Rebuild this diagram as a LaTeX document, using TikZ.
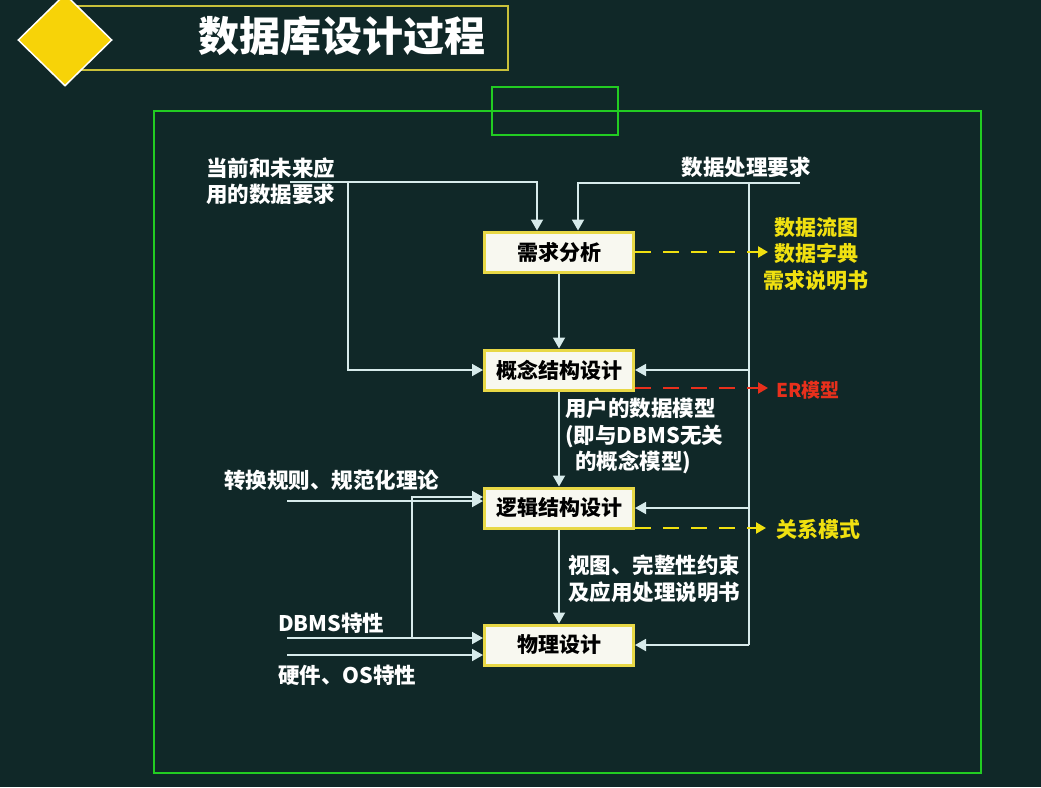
\documentclass[tikz,border=0pt]{standalone}
\usepackage{fontspec}
\setmainfont{Noto Sans CJK SC}
\usetikzlibrary{arrows.meta,shapes.geometric}
\definecolor{bg}{RGB}{16,40,40}
\definecolor{ln}{RGB}{215,235,235}
\definecolor{boxfill}{RGB}{248,248,240}
\definecolor{boxedge}{RGB}{232,216,70}
\definecolor{grn}{RGB}{34,204,34}
\definecolor{tbox}{RGB}{200,192,58}
\definecolor{dia}{RGB}{247,211,8}
\definecolor{ylw}{RGB}{240,224,16}
\definecolor{rd}{RGB}{232,48,28}
\tikzset{
  stagebox/.style={draw=boxedge,fill=boxfill,line width=3pt,minimum width=149pt,minimum height=40pt,inner sep=0pt,font=\fontsize{21}{22}\selectfont\bfseries,text=black},
  lbl/.style={font=\fontsize{21.5}{26.5}\selectfont\bfseries,text=white,inner sep=0pt,align=left},
  ylbl/.style={font=\fontsize{21}{26.5}\selectfont\bfseries,text=ylw,inner sep=0pt,align=center},
  arr/.style={draw=ln,line width=1.8pt,-{Triangle[length=11pt,width=12pt,fill=ln]}},
  plain/.style={draw=ln,line width=1.8pt},
  ydash/.style={draw=ylw,line width=2.2pt,dash pattern=on 16pt off 12pt,-{Triangle[length=10pt,width=11pt]}},
  rdash/.style={draw=rd,line width=2.2pt,dash pattern=on 16pt off 12pt,-{Triangle[length=10pt,width=11pt]}}
}
\begin{document}
\begin{tikzpicture}[x=1pt,y=-1pt]
\fill[bg] (0,0) rectangle (1041,787);
\useasboundingbox (0,0) rectangle (1041,787);
% title
\draw[tbox,line width=2.5pt] (70,6) rectangle (508,70);
\node[draw=white,line width=1.5pt,fill=dia,diamond,minimum width=94pt,minimum height=92pt,inner sep=0pt] (dm) at (65,40) {};
\node[font=\fontsize{41}{44}\selectfont\bfseries,text=white,inner sep=0pt] (title) at (342,36) {数据库设计过程};
% green frames
\draw[grn,line width=2.5pt] (154,111) rectangle (981,773);
\draw[grn,line width=2.5pt] (492,87) rectangle (618,135);
% stages
\node[stagebox] (req) at (559,252) {需求分析};
\node[stagebox] (con) at (559,370) {概念结构设计};
\node[stagebox] (log) at (559,508) {逻辑结构设计};
\node[stagebox] (phy) at (559,645) {物理设计};
% labels
\node[lbl,anchor=west] (t1) at (206,181) {当前和未来应\\用的数据要求};
\node[lbl] (t2) at (746,167) {数据处理要求};
\node[ylbl] (o1) at (816,254) {数据流图\\数据字典\\需求说明书};
\node[font=\fontsize{19}{22}\selectfont\bfseries,text=rd,inner sep=0pt] (o2) at (808,390) {ER模型};
\node[lbl,anchor=north west] (t3) at (565,398) {用户的数据模型\\(即与DBMS无关\\\hspace{10pt}的概念模型)};
\node[lbl,anchor=west] (t4) at (224,480) {转换规则、规范化理论};
\node[lbl,anchor=north west] (t5) at (568,555) {视图、完整性约束\\及应用处理说明书};
\node[lbl,anchor=west] (t6) at (278,623) {DBMS特性};
\node[lbl,anchor=west] (t7) at (278,675) {硬件、OS特性};
\node[font=\fontsize{21}{22}\selectfont\bfseries,text=ylw,inner sep=0pt] (o3) at (818,529) {关系模式};
% coordinates
\coordinate (a1) at (290,182);
\coordinate (a2) at (348,182);
\coordinate (b1) at (800,183);
\coordinate (b2) at (749,183);
\coordinate (l1) at (287,501);
\coordinate (l2) at (287,638);
\coordinate (l3) at (412,638);
\coordinate (l4) at (287,655);
\coordinate (e1) at (768,252);
\coordinate (e2) at (768,388);
\coordinate (e3) at (766,528);
% connectors
\draw[arr] (a1) -| ([xshift=-22pt]req.north);
\draw[arr] (a2) |- (con.west);
\draw[arr] (b1) -| ([xshift=19pt]req.north);
\draw[plain] (b2) -- (b2 |- phy.east);
\draw[arr] (b2 |- con.east) -- (con.east);
\draw[arr] (b2 |- log.east) -- (log.east);
\draw[arr] (b2 |- phy.east) -- (phy.east);
\draw[arr] (req.south) -- (con.north);
\draw[arr] (con.south) -- (log.north);
\draw[arr] (log.south) -- (phy.north);
\draw[arr] (l1) -- (l1 -| log.west);
\draw[arr] (l2) -- (l2 -| phy.west);
\draw[arr] (l3) |- ([yshift=11pt]log.west);
\draw[arr] (l4) -- (l4 -| phy.west);
\draw[ydash] (req.east) -- (e1);
\draw[rdash] (con.east |- e2) -- (e2);
\draw[ydash] (log.east |- e3) -- (e3);
\end{tikzpicture}
\end{document}
